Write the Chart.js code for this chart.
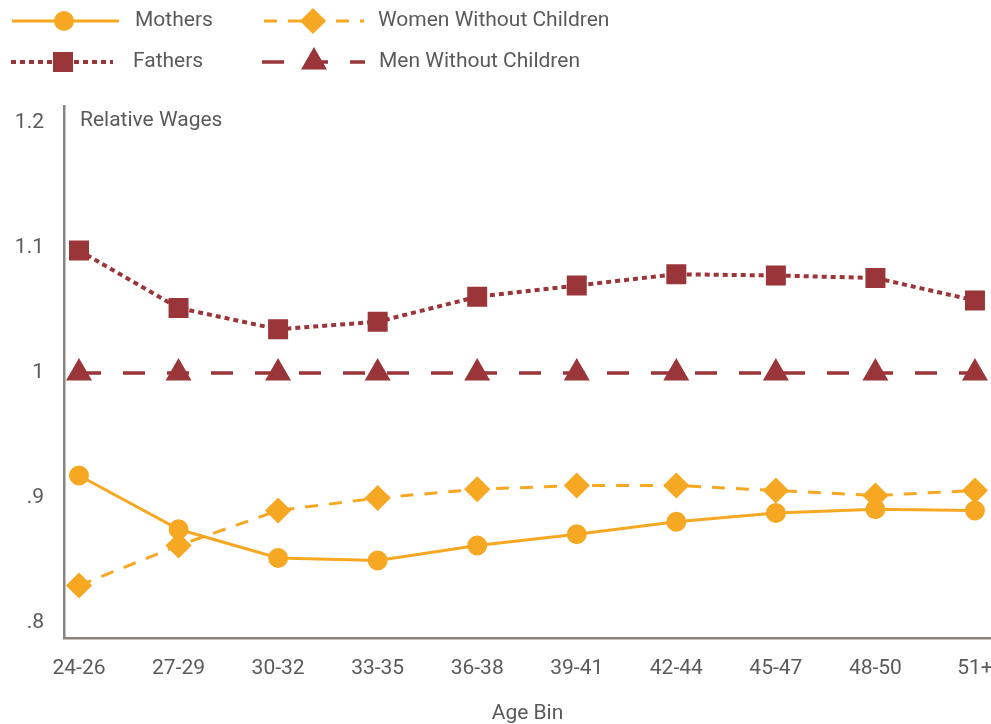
<!DOCTYPE html>
<html>
<head>
<meta charset="utf-8">
<script src="https://cdn.jsdelivr.net/npm/chart.js@4/dist/chart.umd.min.js"></script>
<style>
  html, body { margin: 0; padding: 0; background: #fff; overflow: hidden; }
  #wrap { width: 991px; height: 724px; position: relative; }
  canvas { display: block; }
</style>
</head>
<body>
<div id="wrap"><canvas id="chart"></canvas></div>
<script>
const ageBins = ["24-26", "27-29", "30-32", "33-35", "36-38", "39-41", "42-44", "45-47", "48-50", "51+"];
const mothers = [0.918, 0.875, 0.852, 0.850, 0.862, 0.871, 0.881, 0.888, 0.891, 0.890];
const womenNoKids = [0.830, 0.862, 0.890, 0.900, 0.907, 0.910, 0.910, 0.906, 0.902, 0.906];
const fathers = [1.098, 1.052, 1.035, 1.041, 1.061, 1.070, 1.079, 1.078, 1.076, 1.058];
const menNoKids = [1.0, 1.0, 1.0, 1.0, 1.0, 1.0, 1.0, 1.0, 1.0, 1.0];
const yTicks = [0.8, 0.9, 1.0, 1.1, 1.2];
const yTickLabels = [".8", ".9", "1", "1.1", "1.2"];

const ORANGE = "#F7A823";
const RED = "#9A3539";
const TEXT = "#5a5a5a";
const AXIS = "#8a8480";
const FONT = "Roboto";

const pts = arr => arr.map((v, i) => ({ x: i, y: v }));

// legend drawn by hand: long line samples with the marker in the middle
const legendPlugin = {
    id: "customLegend",
    afterDraw(chart) {
        const ctx = chart.ctx;
        const items = [
            { ds: 0, x0: 12, x1: 119, mx: 64, tx: 135, y: 21 },
            { ds: 1, x0: 264, x1: 364, mx: 313, tx: 378, y: 21 },
            { ds: 2, x0: 11, x1: 113, mx: 63, tx: 133, y: 62 },
            { ds: 3, x0: 262, x1: 365, mx: 314, tx: 379, y: 62 }
        ];
        ctx.save();
        items.forEach(it => {
            const d = chart.data.datasets[it.ds];
            ctx.strokeStyle = d.borderColor;
            ctx.lineWidth = d.borderWidth;
            ctx.setLineDash(d.borderDash || []);
            ctx.beginPath();
            ctx.moveTo(it.x0, it.y);
            ctx.lineTo(it.x1, it.y);
            ctx.stroke();
            ctx.setLineDash([]);
            ctx.fillStyle = d.pointBackgroundColor;
            ctx.strokeStyle = d.pointBorderColor;
            Chart.helpers.drawPoint(ctx, {
                pointStyle: d.pointStyle, radius: d.pointRadius, rotation: 0, borderWidth: 1
            }, it.mx, it.y);
            ctx.fillStyle = TEXT;
            ctx.font = "21px " + FONT;
            ctx.textBaseline = "middle";
            ctx.textAlign = "left";
            ctx.fillText(d.label, it.tx, it.y);
        });
        // y axis caption sits inside the plot, top left
        ctx.fillText("Relative Wages", 80, 121);
        ctx.restore();
    }
};

new Chart(document.getElementById("chart"), {
    type: "line",
    data: {
        datasets: [
            { label: "Mothers", data: pts(mothers), borderColor: ORANGE, borderWidth: 3,
              pointStyle: "circle", pointRadius: 8.5, pointBackgroundColor: ORANGE, pointBorderColor: ORANGE },
            { label: "Women Without Children", data: pts(womenNoKids), borderColor: ORANGE, borderWidth: 3,
              borderDash: [13, 11], pointStyle: "rectRot", pointRadius: 11, pointBackgroundColor: ORANGE, pointBorderColor: ORANGE },
            { label: "Fathers", data: pts(fathers), borderColor: RED, borderWidth: 4,
              borderDash: [5, 4], pointStyle: "rect", pointRadius: 11.3, pointBackgroundColor: RED, pointBorderColor: RED },
            { label: "Men Without Children", data: pts(menNoKids), borderColor: RED, borderWidth: 3.5,
              borderDash: [22, 22], pointStyle: "triangle", pointRadius: 11.5, pointBackgroundColor: RED, pointBorderColor: RED }
        ]
    },
    options: {
        responsive: true,
        maintainAspectRatio: false,
        animation: false,
        // autoPadding reserves room for the big markers, which pulled the plot in from the right edge
        layout: { autoPadding: false, padding: { top: 106, left: 0, right: 0, bottom: 0 } },
        elements: { line: { tension: 0, fill: false }, point: { borderWidth: 1 } },
        plugins: { legend: { display: false }, tooltip: { enabled: false } },
        scales: {
            x: {
                type: "linear",
                min: -0.1507,
                max: 9.161,
                afterBuildTicks: s => { s.ticks = ageBins.map((_, i) => ({ value: i })); },
                afterFit: s => { s.height = 86; s.paddingLeft = 0; s.paddingRight = 0; },
                ticks: {
                    autoSkip: false, maxRotation: 0, padding: 0,
                    color: TEXT, font: { family: FONT, size: 21 },
                    callback: v => ageBins[v]
                },
                grid: { display: false, drawTicks: true, tickLength: 18 },
                border: { display: true, color: AXIS, width: 2.5 },
                title: { display: true, text: "Age Bin", color: TEXT, font: { family: FONT, size: 21 }, padding: { top: 0, bottom: -2 } }
            },
            y: {
                min: 0.788,
                max: 1.2136,
                afterBuildTicks: s => { s.ticks = yTicks.map(v => ({ value: v })); },
                afterFit: s => { s.width = 64; s.paddingTop = 0; s.paddingBottom = 0; },
                ticks: {
                    padding: 20, color: TEXT, font: { family: FONT, size: 21 },
                    callback: (v, i) => yTickLabels[i]
                },
                grid: { display: false, drawTicks: false },
                border: { display: true, color: AXIS, width: 2.5 }
            }
        }
    },
    plugins: [legendPlugin]
});
</script>
</body>
</html>
